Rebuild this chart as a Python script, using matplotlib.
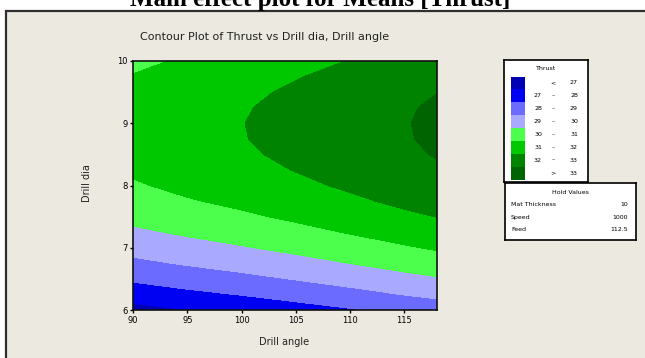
import numpy as np
from matplotlib import pyplot as plt
from matplotlib.patches import Rectangle

# Grid
drill_angle = [90, 95, 100, 105, 110, 115, 118]
drill_dia = [6.00, 6.25, 6.50, 6.75, 7.00, 7.25, 7.50, 7.75, 8.00,
             8.25, 8.50, 8.75, 9.00, 9.25, 9.50, 9.75, 10.00]
thrust = [
    [26.66, 27.00, 27.28, 27.60, 27.92, 28.27, 28.46],
    [27.45, 27.77, 28.04, 28.36, 28.68, 29.03, 29.22],
    [28.15, 28.46, 28.74, 29.05, 29.38, 29.72, 29.91],
    [28.78, 29.09, 29.37, 29.68, 30.01, 30.35, 30.54],
    [29.34, 29.65, 29.93, 30.24, 30.57, 30.91, 31.10],
    [29.83, 30.14, 30.42, 30.73, 31.06, 31.40, 31.59],
    [30.26, 30.57, 30.85, 31.16, 31.49, 31.83, 32.02],
    [30.61, 30.93, 31.20, 31.52, 31.84, 32.19, 32.38],
    [30.90, 31.22, 31.49, 31.81, 32.13, 32.48, 32.67],
    [31.13, 31.44, 31.72, 32.03, 32.36, 32.70, 32.89],
    [31.28, 31.60, 31.87, 32.19, 32.51, 32.86, 33.05],
    [31.37, 31.68, 31.96, 32.27, 32.60, 32.94, 33.13],
    [31.39, 31.70, 31.98, 32.29, 32.62, 32.96, 33.15],
    [31.34, 31.66, 31.93, 32.25, 32.57, 32.92, 33.11],
    [31.23, 31.54, 31.82, 32.13, 32.46, 32.80, 32.99],
    [31.04, 31.36, 31.63, 31.95, 32.27, 32.62, 32.81],
    [30.80, 31.11, 31.39, 31.70, 32.03, 32.37, 32.56],
]

# Contour levels and legend
levels = [20, 27, 28, 29, 30, 31, 32, 33, 40]
band_lo = ['', '27', '28', '29', '30', '31', '32', '']
band_mid = ['<', '\u2013', '\u2013', '\u2013', '\u2013', '\u2013', '\u2013', '>']
band_hi = ['27', '28', '29', '30', '31', '32', '33', '33']
colors = ['#0000B4', '#0000F2', '#6B6BFF', '#A9A9FF',
          '#4CFF4C', '#00C800', '#008400', '#006400']

hold_names = ['Mat Thickness', 'Speed', 'Feed']
hold_values = ['10', '1000', '112.5']

W, H = 645, 358
bg = '#ECE9E0'
fig = plt.figure(figsize=(W / 100, H / 100), dpi=100)
fig.patch.set_facecolor('white')

# Beige panel with dark border (cut off at right and bottom)
fig.patches.append(Rectangle((5.5 / W, -0.1), 1.2, 1.1 - 10.5 / H,
                             transform=fig.transFigure, facecolor=bg,
                             edgecolor='#303030', lw=1.6, zorder=-5))

# Outer title, mostly clipped at the top
fig.text(320 / W, 1 - 6 / H, 'Main effect plot for Means [Thrust]',
         ha='center', va='baseline', fontsize=18, fontweight='bold',
         family='Liberation Serif')

# Contour axes
ax = fig.add_axes([133 / W, 1 - 310 / H, 304 / W, 249 / H])
ax.contourf(drill_angle, drill_dia, thrust, levels=levels, colors=colors)
ax.set_xlim(90, 118)
ax.set_ylim(6, 10)
ax.set_xticks([90, 95, 100, 105, 110, 115])
ax.set_yticks([6, 7, 8, 9, 10])
ax.tick_params(labelsize=6, length=2.5, width=1, pad=1.5, colors='black')
for s in ax.spines.values():
    s.set_linewidth(1.2)
    s.set_color('#101010')

fig.text(265 / W, 1 - 37 / H, 'Contour Plot of Thrust vs Drill dia, Drill angle',
         ha='center', va='center', fontsize=8, color='#222222')
fig.text(284 / W, 1 - 342 / H, 'Drill angle', ha='center', va='center',
         fontsize=7, color='#222222')
fig.text(87 / W, 1 - 183 / H, 'Drill dia', ha='center', va='center',
         fontsize=7, rotation=90, color='#222222')

# Legend box
lg = fig.add_axes([504 / W, 1 - 182 / H, 84 / W, 122 / H])
lg.set_xlim(504, 588)
lg.set_ylim(182, 60)
lg.set_xticks([])
lg.set_yticks([])
lg.set_facecolor('white')
for s in lg.spines.values():
    s.set_linewidth(1.2)
lg.text(546, 68, 'Thrust', ha='center', va='center', fontsize=4.5)
for i in range(len(colors)):
    y0 = 76.5 + i * 12.9
    lg.add_patch(Rectangle((510.5, y0), 14.5, 12.9, facecolor=colors[i],
                           edgecolor='none'))
    yc = y0 + 6.4
    lg.text(538, yc, band_lo[i], ha='center', va='center', fontsize=4.5)
    lg.text(553, yc, band_mid[i], ha='center', va='center', fontsize=4.5)
    lg.text(574, yc, band_hi[i], ha='center', va='center', fontsize=4.5)

# Hold values box
hv = fig.add_axes([505 / W, 1 - 240 / H, 131 / W, 57 / H])
hv.set_xlim(505, 636)
hv.set_ylim(240, 183)
hv.set_xticks([])
hv.set_yticks([])
hv.set_facecolor('white')
for s in hv.spines.values():
    s.set_linewidth(1.2)
hv.text(570, 193, 'Hold Values', ha='center', va='center', fontsize=4.5)
for i in range(len(hold_names)):
    yc = 205 + i * 12.5
    hv.text(511, yc, hold_names[i], ha='left', va='center', fontsize=4.5)
    hv.text(628, yc, hold_values[i], ha='right', va='center', fontsize=4.5)

plt.savefig('out.png', dpi=100)
